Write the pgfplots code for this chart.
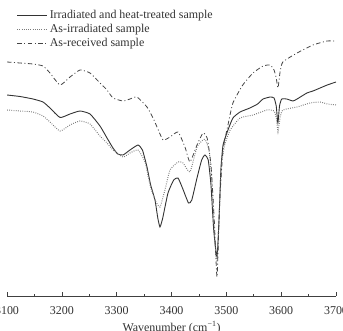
\documentclass[border=0pt]{standalone}
\usepackage{pgfplots}
\pgfplotsset{compat=1.18}
\usepackage{fontspec}
\setmainfont{Liberation Serif}

\definecolor{solidc}{HTML}{333333}
\definecolor{dotc}{HTML}{7A7A7A}
\definecolor{dashc}{HTML}{444444}

\begin{document}
\begin{tikzpicture}
\begin{axis}[
  scale only axis,
  width=329bp, height=296bp,
  xmin=3100, xmax=3700, ymin=4, ymax=300,
  axis x line*=bottom,
  axis y line=none,
  x axis line style={color=black!75, line width=0.6bp},
  xtick={3100,3200,...,3700},
  minor x tick num=1,
  tick align=inside,
  major tick length=4bp,
  minor tick length=2.5bp,
  tick style={color=black!75, line width=0.6bp},
  xticklabel style={font=\fontsize{12}{14}\selectfont, text=black!80, yshift=-7bp,
    /pgf/number format/1000 sep={}, /pgf/number format/assume math mode=true},
  xlabel={Wavenumber (cm\textsuperscript{−1})},
  xlabel style={font=\fontsize{12}{14}\selectfont, text=black!80},
  legend style={at={(axis description cs:0.02,0.98)}, anchor=north west,
    draw=none, fill=none, font=\fontsize{12}{14}\selectfont, text=black!80,
    row sep=0.5bp},
  legend cell align=left,
  legend image code/.code={\draw[#1] (0bp,0bp) -- (30bp,0bp);},
]
% Irradiated and heat-treated sample
\addplot[solidc, line width=0.9bp, smooth, tension=0.3] coordinates {
(3100,205) (3123.7,203.5) (3147.4,201) (3165.7,198) (3178.4,192) (3196.7,182.5)
(3214.9,186) (3233.1,189) (3251.4,186) (3269.6,174) (3282.4,162) (3293.3,152)
(3302,146) (3311.6,145) (3324.3,150) (3338.9,155) (3347,150) (3355.3,133)
(3362,115) (3369.9,100) (3375,82) (3379,73) (3384,82) (3393.6,107) (3404,120)
(3411.9,122) (3420,112) (3431,97) (3437,100) (3446.5,122) (3455,140) (3461,145)
(3467,140) (3472,115) (3477,70) (3483,43) (3487,85) (3490,130) (3494,155)
(3503,170) (3512,182) (3525,188) (3543,192) (3557,196) (3567,201) (3580,203)
(3587,202) (3591,194) (3594,177) (3597,194) (3601,201) (3610,201) (3621.6,199)
(3629,201) (3647,207) (3658,209) (3671,212) (3684,215) (3700,218)
};
\addlegendentry{Irradiated and heat-treated sample}
% As-irradiated sample
\addplot[dotc, line width=1bp, dash pattern=on 0.8bp off 1.4bp, smooth, tension=0.3] coordinates {
(3100,190) (3123.7,189) (3147.4,188) (3165.7,184) (3178.4,178) (3196.7,169)
(3214.9,175) (3233.1,179) (3251.4,176) (3269.6,164) (3282.4,157) (3293.3,150)
(3311.6,143) (3324.3,147) (3338.9,150) (3351.7,138) (3360.8,115) (3369.9,100)
(3379,93) (3388,110) (3397.3,130) (3411.9,138) (3421,137) (3433.7,128)
(3446.5,153) (3457.4,160) (3462,160) (3469,148) (3474,115) (3479,60) (3483,38)
(3487,85) (3491,135) (3497,155) (3507,170) (3525,182) (3548.6,185) (3574,190)
(3587,189) (3591,182) (3594.2,168) (3597.9,182) (3603,190) (3629,193)
(3652.6,197) (3671,198) (3684,196) (3700,195)
};
\addlegendentry{As-irradiated sample}
% As-received sample
\addplot[dashc, line width=0.8bp, dash pattern=on 4.5bp off 2.5bp on 1bp off 2.5bp, smooth, tension=0.3] coordinates {
(3100,238) (3123.7,237) (3147.4,236) (3165.7,234) (3178.4,227) (3196.7,215)
(3214.9,223) (3233.1,230) (3251.4,227) (3269.6,217) (3282.4,210) (3293.3,202)
(3311.6,199) (3324.3,201) (3337.1,203) (3355.3,193) (3366.3,182) (3373.6,173)
(3384.5,160) (3397.3,163) (3411.9,168) (3424.6,153) (3433.7,138) (3446.5,155)
(3457.4,167) (3465,162) (3472,135) (3478,80) (3483,23) (3488,100) (3494,150)
(3503,175) (3512,197) (3530,215) (3548.6,227) (3567,234) (3580,235) (3587,230)
(3591,222) (3594.2,212) (3598,228) (3603,238) (3629,247) (3658,255)
(3683.6,259) (3700,259)
};
\addlegendentry{As-received sample}
\coordinate (bl) at (rel axis cs:0,0);
\coordinate (tr) at (rel axis cs:1,1);
\end{axis}
\pgfresetboundingbox
\useasboundingbox ([xshift=-7bp,yshift=-35bp]bl) rectangle ([xshift=7bp]tr);
\end{tikzpicture}
\end{document}
